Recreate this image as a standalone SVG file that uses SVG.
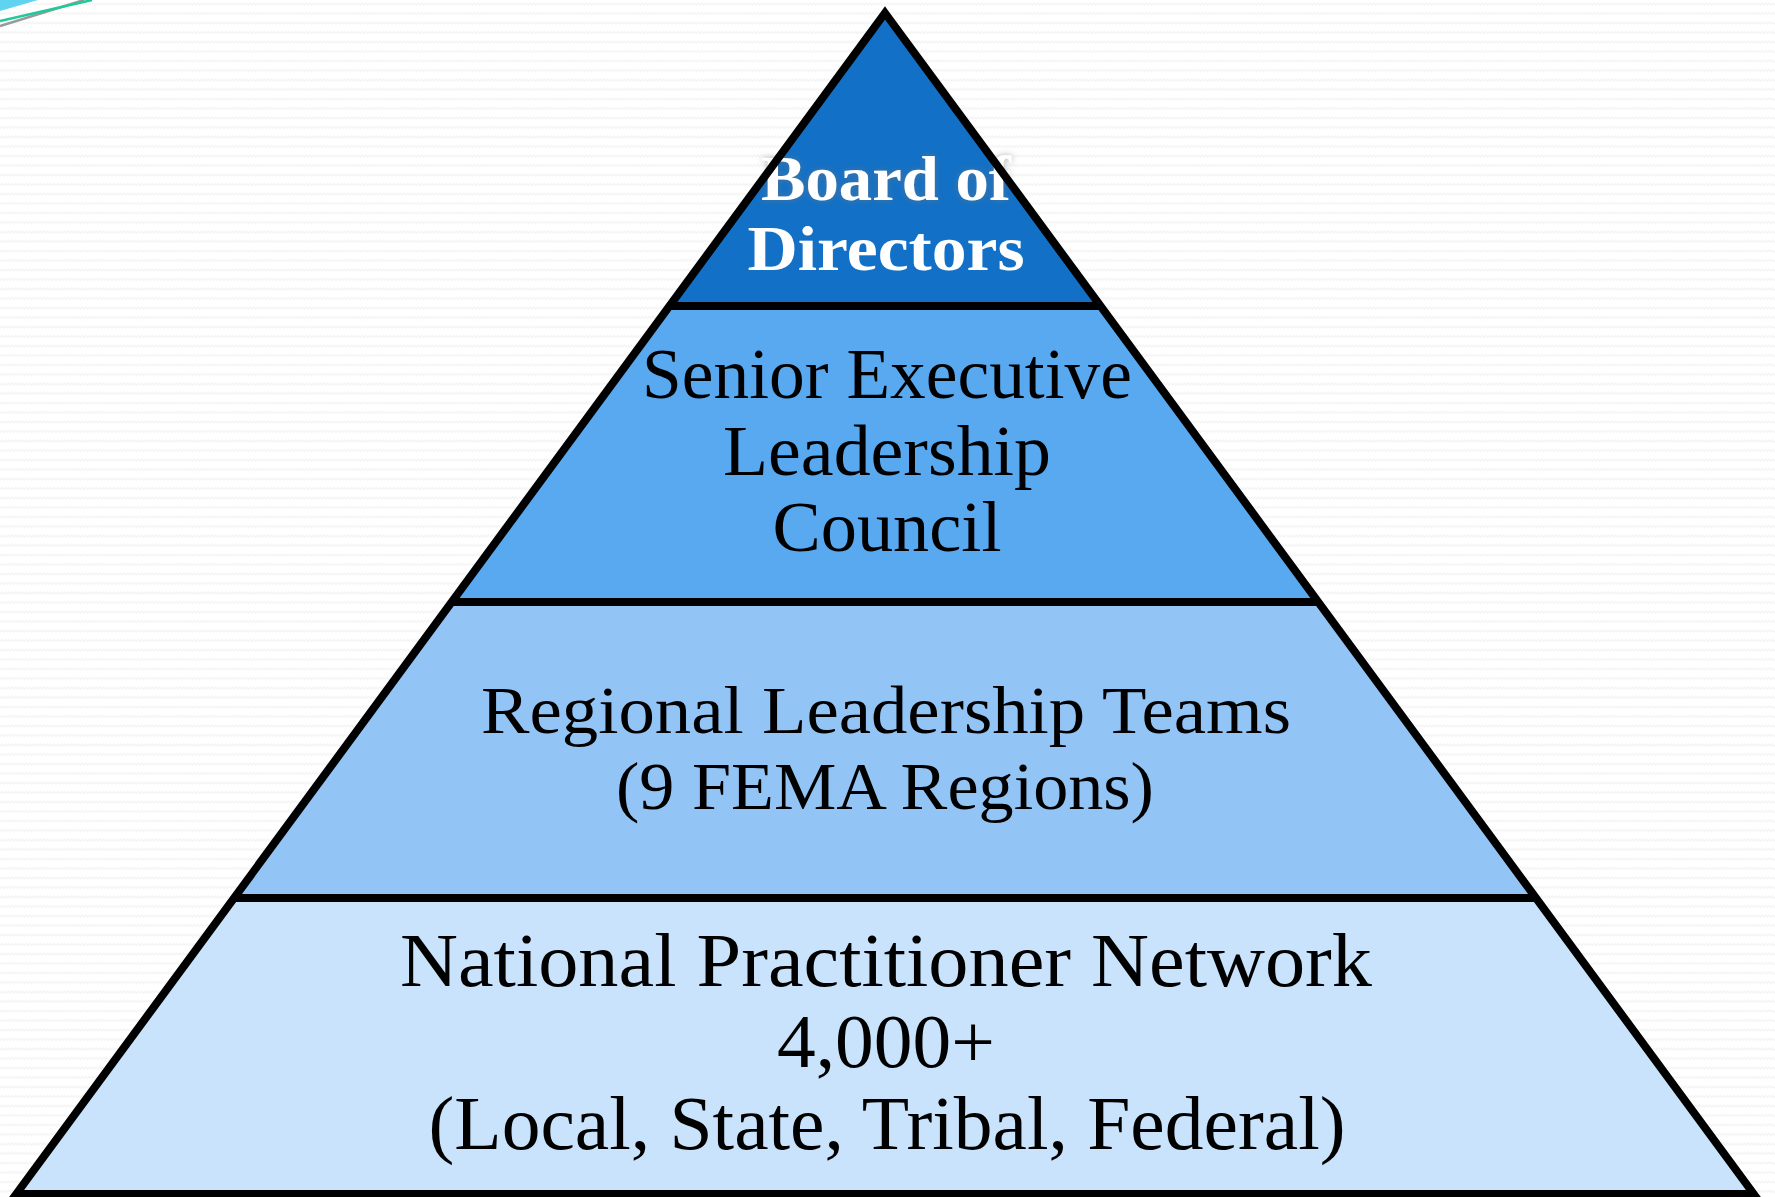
<svg xmlns="http://www.w3.org/2000/svg" width="1775" height="1197" viewBox="0 0 1775 1197">
<style>
.lbl{font-family:"Liberation Serif","DejaVu Serif",serif;fill:#000;text-anchor:middle}
.top{font-family:"Liberation Serif","DejaVu Serif",serif;font-weight:bold;fill:#fff;text-anchor:middle}
.edge{fill:none;stroke:#000;stroke-width:8}
</style>
<defs>
<pattern id="bg" width="7" height="9.5" patternUnits="userSpaceOnUse">
<path d="M0,5 L1.75,3 L3.5,5 L5.25,3 L7,5" fill="none" stroke="#f3f3f3" stroke-width="1.2"/>
</pattern>
<filter id="glow" x="-10%" y="-20%" width="120%" height="140%">
<feGaussianBlur in="SourceAlpha" stdDeviation="3"/>
<feOffset dx="0" dy="0" result="b"/>
<feFlood flood-color="#777" flood-opacity="0.6"/>
<feComposite in2="b" operator="in"/>
<feMerge><feMergeNode/><feMergeNode in="SourceGraphic"/></feMerge>
</filter>
</defs>
<rect width="1775" height="1197" fill="#fff"/>
<rect width="1775" height="1197" fill="url(#bg)"/>
<g id="corner">
<polygon points="0,0 38,0 0,11" fill="#5fd3f0"/>
<line x1="0" y1="26" x2="84" y2="0" stroke="#999" stroke-width="2.5"/>
<line x1="0" y1="21" x2="92" y2="0" stroke="#1ec99a" stroke-width="2.5"/>
</g>
<g id="board">
<polygon points="885,13 1100.5,306 669.5,306" fill="#1270C6"/>
<text class="top" x="886" y="200" font-size="64" textLength="250" lengthAdjust="spacingAndGlyphs" filter="url(#glow)">Board of</text>
<text class="top" x="886" y="270" font-size="64" textLength="277" lengthAdjust="spacingAndGlyphs">Directors</text>
</g>
<g id="senior">
<polygon points="669.5,306 1100.5,306 1318.3,602 451.7,602" fill="#59A9F1"/>
<text class="lbl" x="887" y="398" font-size="71" textLength="490" lengthAdjust="spacingAndGlyphs">Senior Executive</text>
<text class="lbl" x="887" y="475" font-size="71" textLength="328" lengthAdjust="spacingAndGlyphs">Leadership</text>
<text class="lbl" x="887" y="551" font-size="71" textLength="229" lengthAdjust="spacingAndGlyphs">Council</text>
</g>
<g id="regional">
<polygon points="451.7,602 1318.3,602 1536,898 234,898" fill="#92C4F5"/>
<text class="lbl" x="886" y="733" font-size="67" textLength="810" lengthAdjust="spacingAndGlyphs">Regional Leadership Teams</text>
<text class="lbl" x="885" y="809" font-size="67" textLength="538" lengthAdjust="spacingAndGlyphs">(9 FEMA Regions)</text>
</g>
<g id="national">
<polygon points="234,898 1536,898 1753.7,1194 16.3,1194" fill="#C8E3FB"/>
<text class="lbl" x="886" y="986" font-size="77" textLength="972" lengthAdjust="spacingAndGlyphs">National Practitioner Network</text>
<text class="lbl" x="886" y="1067" font-size="77" textLength="218" lengthAdjust="spacingAndGlyphs">4,000+</text>
<text class="lbl" x="887" y="1149" font-size="77" textLength="917" lengthAdjust="spacingAndGlyphs">(Local, State, Tribal, Federal)</text>
</g>
<g id="connectors">
<polygon class="edge" points="885,13 1753.7,1194 16.3,1194"/>
<line class="edge" x1="669.5" y1="306" x2="1100.5" y2="306"/>
<line class="edge" x1="451.7" y1="602" x2="1318.3" y2="602"/>
<line class="edge" x1="234" y1="898" x2="1536" y2="898"/>
</g>
</svg>
